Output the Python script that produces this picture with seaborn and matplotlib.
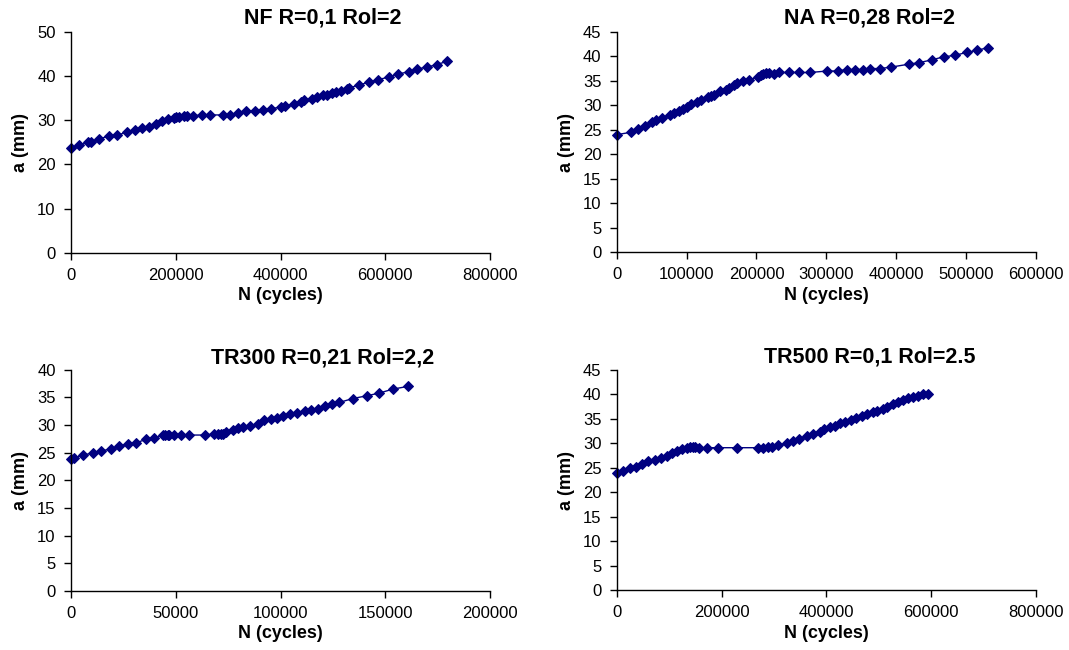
import numpy as np
import pandas as pd
import matplotlib
matplotlib.use("Agg")
import matplotlib.pyplot as plt
import seaborn as sns

# ----------------------------------------------------------
# DATA
# ----------------------------------------------------------

nf_n = [0, 15900, 33100, 37500, 54100, 71900, 87800, 106300, 122200, 134900,
        148900, 161600, 173100, 185800, 196700, 200500, 205600, 215700, 221500, 233600,
        250100, 265400, 289600, 302900, 318200, 334700, 350700, 366600, 382500, 400900,
        408600, 425100, 439800, 445500, 459500, 469700, 481100, 489400, 497700, 506600,
        516100, 526300, 531400, 549900, 568900, 586800, 607800, 623700, 644700, 660600,
        679700, 698100, 717300]
nf_a = [23.8, 24.4, 25.0, 25.0, 25.8, 26.4, 26.6, 27.3, 27.9, 28.2,
        28.5, 29.1, 29.8, 30.2, 30.6, 30.8, 30.8, 31.0, 31.0, 31.0,
        31.2, 31.2, 31.2, 31.2, 31.6, 32.0, 32.0, 32.3, 32.6, 33.0,
        33.3, 33.6, 34.2, 34.5, 34.8, 35.2, 35.7, 35.8, 36.1, 36.4,
        36.7, 37.0, 37.3, 38.0, 38.6, 39.2, 39.8, 40.4, 41.0, 41.6,
        42.0, 42.6, 43.3]

na_n = [0, 20500, 30000, 40100, 50100, 55800, 65300, 75800, 82000, 89200,
        95400, 101100, 105900, 115000, 120700, 130200, 135500, 139300, 148300, 156000,
        160700, 167400, 171700, 181300, 189400, 202700, 206100, 209900, 214200, 218500,
        224700, 232800, 246100, 261400, 276700, 301000, 316700, 329100, 340600, 352500,
        363000, 376800, 392600, 418300, 432600, 451700, 467900, 484200, 500900, 515200,
        531900]
na_a = [24.0, 24.5, 25.1, 25.7, 26.6, 26.9, 27.5, 28.0, 28.4, 28.9,
        29.3, 29.7, 30.3, 30.7, 31.1, 31.6, 32.0, 32.2, 32.9, 33.2,
        33.5, 34.1, 34.6, 35.0, 35.2, 35.8, 36.2, 36.4, 36.5, 36.5,
        36.4, 36.7, 36.7, 36.7, 36.7, 37.0, 37.0, 37.3, 37.3, 37.3,
        37.5, 37.5, 37.8, 38.4, 38.7, 39.3, 39.9, 40.2, 40.8, 41.2,
        41.8]

tr300_n = [0, 1600, 5600, 10300, 14300, 19100, 23100, 27000, 31000, 35800,
           39800, 43800, 45000, 46100, 46900, 49300, 52500, 56500, 64100, 68400,
           70000, 71600, 72400, 74000, 77200, 79600, 81900, 85400, 89100, 92300,
           95500, 98200, 101300, 104500, 108000, 111500, 114700, 117900, 121400, 124600,
           128100, 134400, 141100, 147200, 153500, 160700]
tr300_a = [23.8, 24.0, 24.6, 24.9, 25.3, 25.7, 26.2, 26.6, 26.8, 27.4,
           27.6, 28.2, 28.2, 28.2, 28.2, 28.2, 28.2, 28.2, 28.2, 28.4,
           28.4, 28.4, 28.4, 28.7, 29.2, 29.5, 29.7, 29.9, 30.2, 30.9,
           31.1, 31.3, 31.6, 32.0, 32.2, 32.5, 32.8, 33.0, 33.5, 33.8,
           34.1, 34.8, 35.3, 35.8, 36.5, 37.0]

tr500_n = [0, 12700, 25400, 36900, 47700, 60400, 73100, 84000, 95400, 104900,
           114500, 124000, 133600, 139900, 145000, 149500, 157700, 173000, 194000, 229000,
           269000, 279800, 289400, 295700, 308500, 324400, 337100, 348500, 362500, 375200,
           388000, 395600, 407000, 416600, 426100, 435700, 446500, 456600, 467500, 477000,
           488400, 497400, 507500, 516400, 526600, 537400, 547000, 556500, 566000, 575600,
           585100, 594700]
tr500_a = [24.0, 24.3, 24.9, 25.2, 25.7, 26.4, 26.6, 27.1, 27.5, 28.0,
           28.5, 28.9, 29.1, 29.3, 29.3, 29.3, 29.1, 29.1, 29.1, 29.1,
           29.1, 29.1, 29.3, 29.3, 29.6, 30.0, 30.5, 30.9, 31.5, 32.0,
           32.4, 32.9, 33.3, 33.6, 34.1, 34.4, 34.8, 35.1, 35.6, 35.9,
           36.3, 36.5, 37.0, 37.5, 38.0, 38.4, 38.8, 39.2, 39.4, 39.7,
           40.0, 40.1]

titles = ["NF R=0,1 Rol=2", "NA R=0,28 Rol=2",
          "TR300 R=0,21 Rol=2,2", "TR500 R=0,1 Rol=2.5"]
x_ticks = [np.arange(0, 800001, 200000), np.arange(0, 600001, 100000),
           np.arange(0, 200001, 50000), np.arange(0, 800001, 200000)]
y_ticks = [np.arange(0, 51, 10), np.arange(0, 46, 5),
           np.arange(0, 41, 5), np.arange(0, 46, 5)]

series = [(nf_n, nf_a), (na_n, na_a), (tr300_n, tr300_a), (tr500_n, tr500_a)]

# ----------------------------------------------------------
# STYLE
# ----------------------------------------------------------

sns.set_style("ticks")
plt.rcParams['font.family'] = ['Liberation Sans', 'DejaVu Sans']
plt.rcParams['text.color'] = 'black'
plt.rcParams['axes.labelcolor'] = 'black'
plt.rcParams['xtick.color'] = 'black'
plt.rcParams['ytick.color'] = 'black'
navy = "#000080"

fig = plt.figure(figsize=(10.69, 6.5), dpi=100)

# axes boxes in figure fractions (left, bottom, width, height)
boxes = [(0.0664, 0.611, 0.392, 0.340), (0.577, 0.612, 0.392, 0.339),
         (0.0664, 0.091, 0.392, 0.340), (0.577, 0.092, 0.392, 0.339)]
title_pos = [(323 / 1069, 1 - 18 / 650), (870 / 1069, 1 - 18 / 650),
             (323 / 1069, 1 - 358 / 650), (870 / 1069, 1 - 357 / 650)]

# ----------------------------------------------------------
# PANELS
# ----------------------------------------------------------

for i, (n, a) in enumerate(series):
    ax = fig.add_axes(boxes[i])
    df = pd.DataFrame({"N": n, "a": a})
    sns.lineplot(data=df, x="N", y="a", ax=ax, estimator=None, sort=False,
                 color=navy, linewidth=1, marker="D", markersize=5.5,
                 markeredgecolor=navy, clip_on=False)

    ax.set_xlim(x_ticks[i][0], x_ticks[i][-1])
    ax.set_ylim(y_ticks[i][0], y_ticks[i][-1])
    ax.set_xticks(x_ticks[i])
    ax.set_yticks(y_ticks[i])
    ax.set_xticklabels([str(v) for v in x_ticks[i]])
    ax.set_yticklabels([str(v) for v in y_ticks[i]])
    ax.tick_params(labelsize=12, length=5, width=1, color="black", pad=6)

    for side in ["top", "right"]:
        ax.spines[side].set_visible(False)
    for side in ["left", "bottom"]:
        ax.spines[side].set_color("black")
        ax.spines[side].set_linewidth(1)

    ax.set_xlabel("N (cycles)", fontsize=13, fontweight="bold", labelpad=3)
    ax.set_ylabel("a (mm)", fontsize=13, fontweight="bold", labelpad=6)

    fig.text(title_pos[i][0], title_pos[i][1], titles[i], ha="center",
             va="center", fontsize=15.5, fontweight="bold")

fig.savefig("out.png", dpi=100)
